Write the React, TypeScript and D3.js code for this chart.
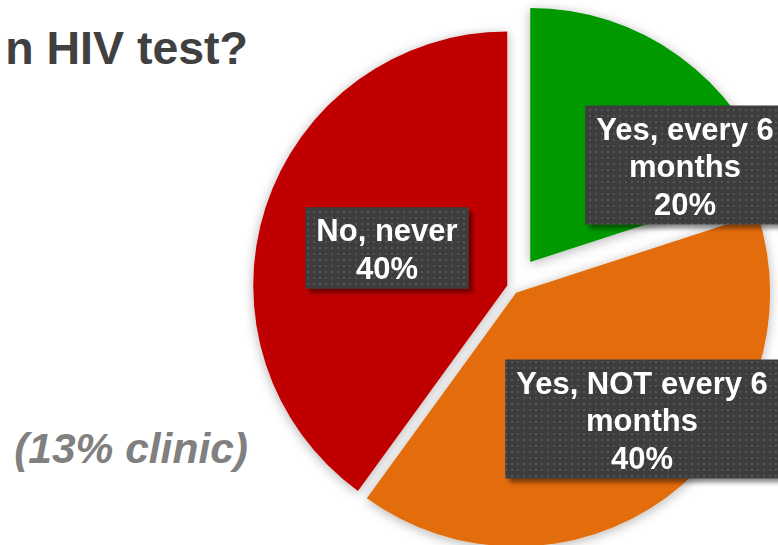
import React from "react";
import * as d3 from "d3";

const categories = ["Yes, every 6 months", "Yes, NOT every 6 months", "No, never"];
const values = [20, 40, 40];
const labelLines = [
  ["Yes, every 6", "months", "20%"],
  ["Yes, NOT every 6", "months", "40%"],
  ["No, never", "40%"],
];
const colors = ["#009900", "#E36C09", "#C00000"];
const titleText = "n HIV test?";
const noteText = "(13% clinic)";

// layout (not data)
const W = 778, H = 545;
const CX = 512, CY = 287, R = 254;
const explode = [31, 7, 5];
const labelCenters = [
  [173, -122],
  [130, 132],
  [-125, -39],
];
const FONT = "'Liberation Sans', Arial, sans-serif";
const LABEL_FS = 31;
const LINE_H = 37.5;

function measure(text: string, font: string): number {
  const c = document.createElement("canvas");
  const ctx = c.getContext("2d")!;
  ctx.font = font;
  return ctx.measureText(text).width;
}

export default function App() {
  const pie = d3.pie<number>().sort(null).startAngle(0).endAngle(2 * Math.PI);
  const arcs = pie(values);
  const arc = d3.arc<d3.PieArcDatum<number>>().innerRadius(0).outerRadius(R);

  return (
    <svg width={W} height={H} style={{ position: "absolute", left: 0, top: 0, background: "#fff" }}>
      <defs>
        <filter id="pieShadow" x="-20%" y="-20%" width="140%" height="140%">
          <feGaussianBlur in="SourceAlpha" stdDeviation="6" />
          <feOffset dx="0" dy="2" result="b" />
          <feComponentTransfer>
            <feFuncA type="linear" slope="0.3" />
          </feComponentTransfer>
          <feMerge>
            <feMergeNode />
            <feMergeNode in="SourceGraphic" />
          </feMerge>
        </filter>
        <filter id="boxShadow" x="-10%" y="-10%" width="130%" height="130%">
          <feDropShadow dx="4" dy="4" stdDeviation="2" floodColor="#000" floodOpacity="0.45" />
        </filter>
        <pattern id="dots" width="6" height="6" patternUnits="userSpaceOnUse">
          <rect width="6" height="6" fill="#3d3d3d" />
          <rect x="1" y="1" width="2" height="2" fill="#555555" />
        </pattern>
      </defs>

      <text x={248} y={64} textAnchor="end" fontFamily={FONT} fontWeight="bold" fontSize={46.5} fill="#404040">
        {titleText}
      </text>
      <text x={248} y={463} textAnchor="end" fontFamily={FONT} fontWeight="bold" fontStyle="italic" fontSize={42.5} fill="#808080">
        {noteText}
      </text>

      <g filter="url(#pieShadow)">
        {arcs.map((a, i) => {
          const mid = (a.startAngle + a.endAngle) / 2;
          const dx = Math.sin(mid) * explode[i];
          const dy = -Math.cos(mid) * explode[i];
          return (
            <path
              key={categories[i]}
              d={arc(a) || ""}
              transform={`translate(${CX + dx},${CY + dy})`}
              fill={colors[i]}
            />
          );
        })}
      </g>

      {arcs.map((a, i) => {
        const lines = labelLines[i];
        const font = `bold ${LABEL_FS}px ${FONT}`;
        const tw = Math.max(...lines.map((l) => measure(l, font)));
        const bw = tw + 22;
        const bh = (lines.length - 1) * LINE_H + 44;
        const cx = CX + labelCenters[i][0];
        const cy = CY + labelCenters[i][1];
        const top = cy - bh / 2;
        return (
          <g key={"lab" + i}>
            <rect x={cx - bw / 2} y={top} width={bw} height={bh} fill="url(#dots)" filter="url(#boxShadow)" />
            {lines.map((l, j) => (
              <text
                key={j}
                x={cx}
                y={top + 34 + j * LINE_H}
                textAnchor="middle"
                fontFamily={FONT}
                fontWeight="bold"
                fontSize={LABEL_FS}
                fill="#ffffff"
              >
                {l}
              </text>
            ))}
          </g>
        );
      })}
    </svg>
  );
}
